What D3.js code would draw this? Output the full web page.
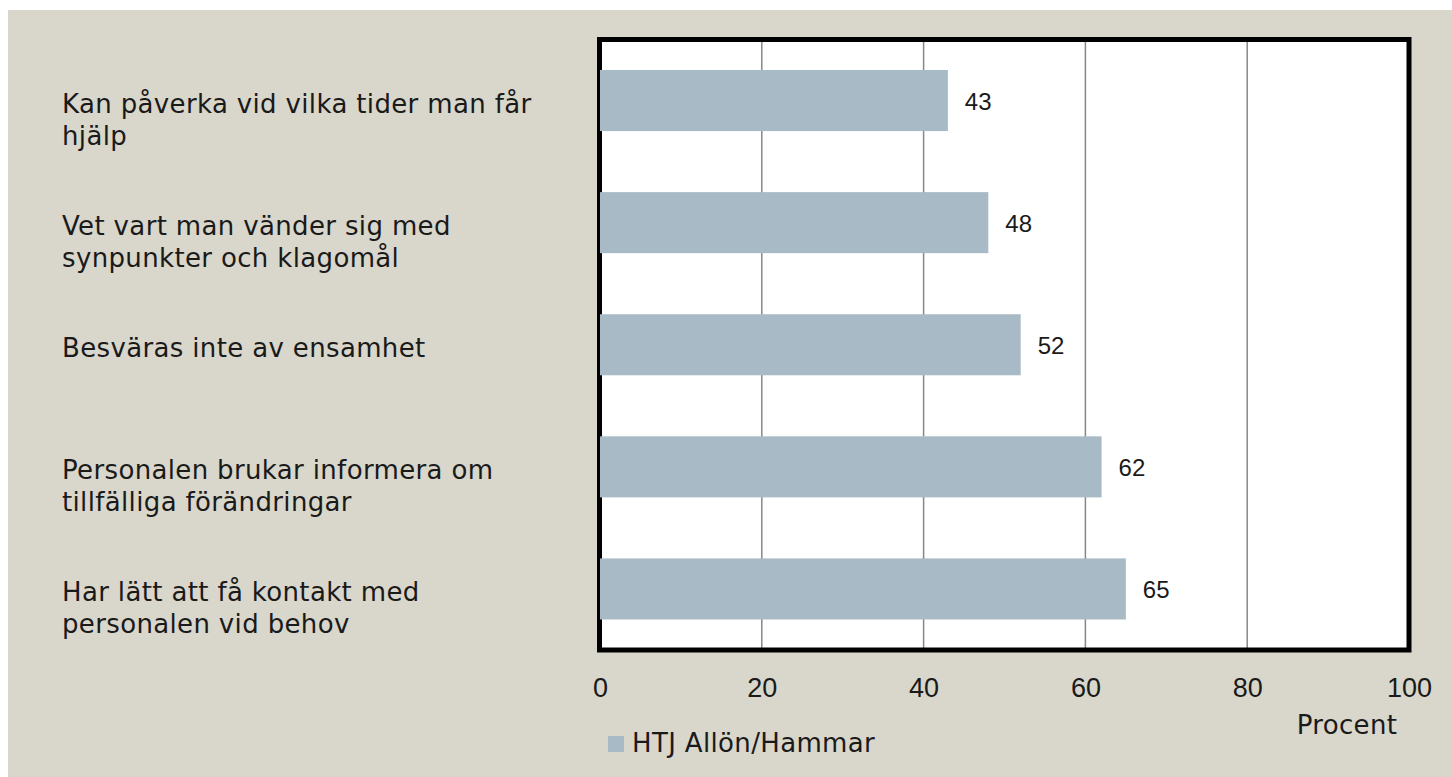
<!DOCTYPE html>
<html>
<head>
<meta charset="utf-8">
<script src="https://cdn.jsdelivr.net/npm/d3@7"></script>
<style>
  html, body { margin: 0; padding: 0; background: #ffffff; }
  svg { display: block; }
</style>
</head>
<body>
<svg id="chart" width="1452" height="777"></svg>
<script>
// ---- data ----
const categories = [
  "Kan påverka vid vilka tider man får\nhjälp",
  "Vet vart man vänder sig med\nsynpunkter och klagomål",
  "Besväras inte av ensamhet",
  "Personalen brukar informera om\ntillfälliga förändringar",
  "Har lätt att få kontakt med\npersonalen vid behov"
];
const values = [43, 48, 52, 62, 65];
const seriesName = "HTJ Allön/Hammar";
const tickValues = [0, 20, 40, 60, 80, 100];
const gridValues = [20, 40, 60, 80];
const axisTitle = "Procent";

// ---- style ----
const FONT = "'DejaVu Sans', sans-serif";
const NUMFONT = "'Liberation Sans', Arial, sans-serif";
const TEXT = "#1a1a1a";
const BG = "#d9d6cb";
const BAR = "#a7bac5";

const svg = d3.select("#chart");
svg.append("rect").attr("x", 8).attr("y", 10).attr("width", 1444).attr("height", 767).attr("fill", BG);

const plot = { left: 599.5, right: 1409, top: 39.5, bottom: 650 };
const x = d3.scaleLinear().domain([0, 100]).range([600, 1409]);
const y = d3.scaleBand().domain(categories).range([plot.top, plot.bottom]).paddingInner(0.5).paddingOuter(0.25);

// plot area
svg.append("rect").attr("x", plot.left).attr("y", plot.top)
  .attr("width", plot.right - plot.left).attr("height", plot.bottom - plot.top)
  .attr("fill", "#ffffff");

svg.append("g").selectAll("line").data(gridValues).join("line")
  .attr("x1", d => x(d)).attr("x2", d => x(d))
  .attr("y1", plot.top).attr("y2", plot.bottom)
  .attr("stroke", "#878787").attr("stroke-width", 1.5);

svg.append("rect").attr("x", plot.left).attr("y", plot.top)
  .attr("width", plot.right - plot.left).attr("height", plot.bottom - plot.top)
  .attr("fill", "none").attr("stroke", "#000").attr("stroke-width", 5);

// bars
svg.append("g").selectAll("rect").data(categories).join("rect")
  .attr("x", x(0)).attr("y", d => y(d))
  .attr("width", (d, i) => x(values[i]) - x(0))
  .attr("height", y.bandwidth())
  .attr("fill", BAR);

// value labels
svg.append("g").selectAll("text").data(categories).join("text")
  .attr("x", (d, i) => x(values[i]) + 17)
  .attr("y", d => y(d) + y.bandwidth() / 2 + 9)
  .attr("font-family", NUMFONT).attr("font-size", 24).attr("fill", TEXT)
  .text((d, i) => values[i]);

// category labels
const lab = svg.append("g").selectAll("text").data(categories).join("text")
  .attr("x", 62)
  .attr("y", d => y(d) + y.bandwidth() / 2 + 12)
  .attr("font-family", FONT).attr("font-size", 26).attr("letter-spacing", 0.35)
  .attr("fill", TEXT);
lab.selectAll("tspan").data(d => d.split("\n")).join("tspan")
  .attr("x", 62).attr("dy", (d, i) => i === 0 ? 0 : 32).text(d => d);

// x axis
const ax = svg.append("g").attr("transform", `translate(0,${plot.bottom})`)
  .call(d3.axisBottom(x).tickValues(tickValues).tickSize(0).tickPadding(28));
ax.select(".domain").remove();
ax.selectAll("text").attr("font-family", NUMFONT).attr("font-size", 27).attr("fill", TEXT);

svg.append("text").attr("x", 1347).attr("y", 734).attr("text-anchor", "middle")
  .attr("font-family", FONT).attr("font-size", 26).attr("letter-spacing", 0.35)
  .attr("fill", TEXT).text(axisTitle);

// legend
svg.append("rect").attr("x", 608).attr("y", 736).attr("width", 16).attr("height", 16).attr("fill", BAR);
svg.append("text").attr("x", 632).attr("y", 752)
  .attr("font-family", FONT).attr("font-size", 26).attr("letter-spacing", 0.35)
  .attr("fill", TEXT).text(seriesName);
</script>
</body>
</html>
